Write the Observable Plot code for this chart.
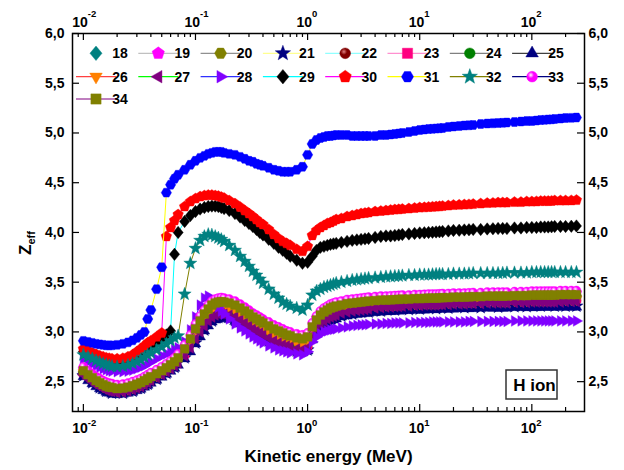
<!DOCTYPE html>
<html><head><meta charset="utf-8">
<script src="https://cdn.jsdelivr.net/npm/d3@7"></script>
<script src="https://cdn.jsdelivr.net/npm/@observablehq/plot@0.6"></script>
<style>
html,body{margin:0;padding:0;background:#fff;}
#chart{width:624px;height:470px;}
</style></head><body><div id="chart"></div>
<script>
// ---------- DATA ----------
const energy = [
0.01,0.011,0.012,0.013,0.014,0.015,0.016,0.017,0.018,0.02,0.0225,0.025,0.0275,0.03,0.0325,0.035,0.0375,0.04,0.045,0.05,0.055,0.06,0.065,0.07,0.08,0.09,
0.1,0.11,0.12,0.13,0.14,0.15,0.16,0.17,0.18,0.2,0.225,0.25,0.275,0.3,0.325,0.35,0.375,0.4,0.45,0.5,0.55,0.6,0.65,0.7,0.8,0.9,
1,1.1,1.2,1.3,1.4,1.5,1.6,1.7,1.8,2,2.25,2.5,2.75,3,3.25,3.5,4,4.5,5,5.5,6,6.5,7,8,9,
10,11,12,13,14,15,16,18,20,22.5,25,27.5,30,35,40,45,50,55,60,70,80,90,100,110,120,130,140,150,160,180,200,225,250];
const energyCoarse = [
0.01,0.012,0.014,0.016,0.018,0.0225,0.0275,0.0325,0.0375,0.045,0.055,0.065,0.08,
0.1,0.12,0.14,0.16,0.18,0.225,0.275,0.325,0.375,0.45,0.55,0.65,0.8,
1,1.2,1.4,1.6,2,2.5,3.5,4.5,6,8,
10,14,18,25,35,50,70,90,120,160,200,250];

// series 18-24 (on energyCoarse)
const z18 = [2.59,2.52,2.47,2.435,2.42,2.415,2.44,2.47,2.51,2.56,2.62,2.68,2.80,
3.00,3.15,3.24,3.27,3.27,3.24,3.18,3.12,3.08,3.03,2.98,2.945,2.915,
2.93,3.10,3.18,3.22,3.25,3.27,3.29,3.30,3.305,3.31,
3.315,3.32,3.325,3.33,3.335,3.34,3.345,3.345,3.35,3.35,3.355,3.355];
const z19 = [2.63,2.56,2.51,2.475,2.46,2.455,2.48,2.51,2.55,2.60,2.66,2.72,2.85,
3.05,3.20,3.29,3.32,3.32,3.29,3.23,3.17,3.13,3.08,3.03,2.99,2.96,
2.97,3.14,3.22,3.26,3.29,3.31,3.33,3.34,3.345,3.35,
3.355,3.36,3.365,3.37,3.375,3.38,3.385,3.385,3.39,3.39,3.395,3.395];
const z20 = [2.60,2.53,2.48,2.445,2.43,2.425,2.45,2.48,2.52,2.57,2.63,2.69,2.82,
3.02,3.17,3.26,3.29,3.29,3.26,3.20,3.14,3.10,3.05,3.00,2.96,2.93,
2.94,3.11,3.19,3.23,3.26,3.28,3.30,3.31,3.315,3.32,
3.325,3.33,3.335,3.34,3.345,3.35,3.355,3.355,3.36,3.36,3.365,3.365];
const z21 = [2.56,2.49,2.44,2.405,2.385,2.385,2.405,2.435,2.475,2.525,2.585,2.645,2.74,
2.89,3.02,3.11,3.145,3.145,3.115,3.06,3.005,2.96,2.91,2.865,2.835,2.81,
2.82,3.00,3.08,3.12,3.16,3.18,3.20,3.21,3.22,3.225,
3.23,3.235,3.24,3.245,3.245,3.25,3.255,3.255,3.26,3.26,3.26,3.26];
const z22 = [2.58,2.51,2.46,2.425,2.41,2.405,2.43,2.46,2.50,2.55,2.61,2.67,2.77,
2.94,3.07,3.16,3.19,3.19,3.16,3.10,3.04,3.00,2.95,2.90,2.87,2.84,
2.85,3.04,3.12,3.16,3.20,3.22,3.24,3.255,3.265,3.27,
3.275,3.28,3.285,3.29,3.295,3.30,3.305,3.305,3.31,3.31,3.315,3.315];
const z23 = [2.59,2.52,2.47,2.435,2.42,2.415,2.44,2.47,2.51,2.56,2.62,2.68,2.78,
2.96,3.09,3.18,3.21,3.21,3.18,3.12,3.06,3.02,2.97,2.92,2.89,2.86,
2.87,3.06,3.14,3.18,3.22,3.24,3.26,3.275,3.285,3.29,
3.295,3.30,3.305,3.31,3.315,3.32,3.325,3.325,3.33,3.33,3.335,3.335];
const z24 = [2.60,2.53,2.48,2.445,2.43,2.425,2.45,2.48,2.52,2.57,2.63,2.69,2.80,
2.98,3.11,3.20,3.23,3.23,3.20,3.14,3.08,3.04,2.99,2.94,2.91,2.88,
2.89,3.08,3.16,3.20,3.24,3.26,3.28,3.295,3.305,3.31,
3.315,3.32,3.325,3.33,3.335,3.34,3.345,3.345,3.35,3.35,3.355,3.355];

// series 25-34 (on energy)
const z25 = [2.55,2.51,2.48,2.45,2.43,2.41,2.395,2.385,2.375,2.37,2.375,2.385,2.395,2.41,2.425,2.445,2.465,2.485,2.515,2.545,2.575,2.605,2.635,2.665,2.73,2.80,
2.88,2.95,3.01,3.06,3.10,3.12,3.135,3.14,3.135,3.125,3.105,3.08,3.05,3.02,2.995,2.97,2.95,2.93,2.90,2.875,2.855,2.84,2.825,2.815,2.80,2.79,
2.81,2.92,2.99,3.04,3.07,3.09,3.11,3.12,3.13,3.15,3.16,3.17,3.175,3.18,3.185,3.19,3.195,3.20,3.205,3.205,3.21,3.21,3.215,3.215,3.22,
3.22,3.22,3.225,3.225,3.225,3.23,3.23,3.23,3.23,3.235,3.235,3.235,3.235,3.24,3.24,3.24,3.24,3.24,3.24,3.245,3.245,3.245,3.245,3.245,3.25,3.25,3.25,3.25,3.25,3.25,3.25,3.25,3.25];
const z26 = [2.59,2.55,2.52,2.49,2.47,2.45,2.435,2.425,2.42,2.41,2.415,2.425,2.44,2.455,2.47,2.49,2.51,2.53,2.56,2.59,2.62,2.65,2.68,2.71,2.79,2.88,
2.97,3.05,3.12,3.17,3.21,3.23,3.245,3.25,3.245,3.235,3.215,3.185,3.155,3.125,3.095,3.07,3.05,3.03,3.00,2.97,2.95,2.93,2.915,2.905,2.885,2.875,
2.90,3.00,3.07,3.12,3.15,3.17,3.19,3.20,3.21,3.22,3.235,3.24,3.245,3.25,3.255,3.26,3.265,3.27,3.27,3.275,3.275,3.28,3.28,3.28,3.285,
3.285,3.29,3.29,3.29,3.29,3.295,3.295,3.295,3.30,3.30,3.30,3.305,3.305,3.305,3.31,3.31,3.31,3.31,3.31,3.315,3.315,3.315,3.32,3.32,3.32,3.32,3.32,3.32,3.32,3.325,3.325,3.325,3.325];
const z27 = [2.57,2.53,2.50,2.47,2.45,2.43,2.415,2.405,2.40,2.39,2.395,2.405,2.42,2.435,2.45,2.47,2.49,2.51,2.54,2.57,2.60,2.63,2.66,2.69,2.76,2.84,
2.93,3.00,3.06,3.11,3.15,3.17,3.18,3.185,3.18,3.17,3.15,3.12,3.09,3.06,3.03,3.01,2.99,2.97,2.94,2.91,2.89,2.87,2.86,2.85,2.83,2.82,
2.84,2.96,3.03,3.08,3.11,3.13,3.15,3.16,3.17,3.19,3.20,3.21,3.215,3.22,3.225,3.23,3.24,3.245,3.25,3.25,3.255,3.255,3.26,3.26,3.265,
3.265,3.27,3.27,3.27,3.27,3.275,3.275,3.275,3.28,3.28,3.28,3.285,3.285,3.285,3.29,3.29,3.29,3.29,3.29,3.295,3.295,3.295,3.30,3.30,3.30,3.30,3.30,3.30,3.30,3.30,3.305,3.305,3.305];
const z28 = [2.73,2.70,2.68,2.66,2.645,2.63,2.62,2.61,2.605,2.60,2.60,2.605,2.615,2.63,2.645,2.66,2.68,2.70,2.73,2.76,2.78,2.80,2.82,2.84,2.90,3.02,
3.15,3.27,3.34,3.36,3.33,3.29,3.25,3.21,3.18,3.13,3.08,3.04,3.01,2.98,2.95,2.93,2.91,2.89,2.86,2.84,2.82,2.81,2.80,2.79,2.78,2.77,
2.80,2.90,2.95,2.98,3.00,3.01,3.02,3.025,3.03,3.04,3.05,3.06,3.065,3.07,3.072,3.075,3.08,3.08,3.085,3.085,3.09,3.09,3.09,3.09,3.095,
3.095,3.095,3.095,3.10,3.10,3.10,3.10,3.10,3.10,3.10,3.10,3.105,3.105,3.105,3.105,3.105,3.105,3.105,3.105,3.11,3.11,3.11,3.11,3.11,3.11,3.11,3.11,3.11,3.11,3.11,3.11,3.11,3.11];
const z29 = [2.80,2.78,2.76,2.745,2.73,2.72,2.71,2.705,2.70,2.70,2.705,2.715,2.73,2.755,2.78,2.81,2.83,2.855,2.89,2.93,2.97,3.01,3.78,4.00,4.11,4.17,
4.21,4.235,4.25,4.26,4.265,4.265,4.26,4.25,4.24,4.22,4.19,4.155,4.12,4.09,4.06,4.03,4.00,3.975,3.93,3.89,3.85,3.82,3.79,3.76,3.72,3.69,
3.70,3.76,3.82,3.85,3.86,3.87,3.88,3.885,3.89,3.90,3.91,3.92,3.925,3.93,3.935,3.94,3.95,3.96,3.965,3.965,3.97,3.975,3.98,3.985,3.99,
3.995,3.997,4.00,4.002,4.005,4.007,4.01,4.015,4.02,4.022,4.025,4.027,4.03,4.03,4.035,4.037,4.04,4.04,4.04,4.045,4.045,4.05,4.05,4.05,4.055,4.055,4.055,4.057,4.06,4.06,4.06,4.062,4.065];
const z30 = [2.83,2.81,2.79,2.775,2.76,2.75,2.74,2.735,2.73,2.73,2.735,2.75,2.77,2.80,2.83,2.86,2.89,2.91,2.95,2.99,3.96,4.05,4.12,4.18,4.26,4.31,
4.34,4.36,4.37,4.375,4.375,4.37,4.365,4.355,4.345,4.32,4.29,4.255,4.22,4.19,4.16,4.13,4.10,4.08,4.03,3.98,3.94,3.91,3.89,3.87,3.83,3.81,
3.86,3.97,4.02,4.05,4.07,4.09,4.10,4.115,4.13,4.14,4.16,4.17,4.18,4.19,4.195,4.20,4.21,4.215,4.22,4.225,4.23,4.232,4.235,4.24,4.245,
4.25,4.252,4.255,4.257,4.26,4.262,4.265,4.27,4.275,4.277,4.28,4.282,4.285,4.29,4.295,4.297,4.30,4.30,4.30,4.305,4.305,4.31,4.31,4.312,4.315,4.315,4.315,4.317,4.32,4.32,4.32,4.322,4.325];
const z31 = [2.91,2.90,2.89,2.88,2.875,2.87,2.865,2.865,2.865,2.87,2.88,2.895,2.915,2.94,2.97,3.00,3.13,3.22,3.43,3.65,4.40,4.48,4.54,4.58,4.63,4.68,
4.72,4.75,4.77,4.79,4.80,4.81,4.81,4.81,4.80,4.79,4.78,4.76,4.74,4.72,4.71,4.69,4.68,4.67,4.65,4.63,4.62,4.61,4.61,4.61,4.63,4.66,
4.78,4.89,4.93,4.95,4.96,4.97,4.97,4.975,4.98,4.98,4.98,4.97,4.97,4.97,4.97,4.97,4.97,4.98,4.98,4.985,4.99,4.995,5.00,5.01,5.02,
5.03,5.035,5.04,5.042,5.045,5.047,5.05,5.06,5.065,5.07,5.075,5.077,5.08,5.09,5.095,5.097,5.10,5.102,5.105,5.11,5.115,5.12,5.12,5.125,5.13,5.132,5.135,5.137,5.14,5.145,5.15,5.152,5.155];
const z32 = [2.77,2.75,2.73,2.71,2.695,2.68,2.67,2.66,2.655,2.65,2.655,2.665,2.68,2.70,2.72,2.745,2.77,2.79,2.82,2.85,2.88,2.91,2.94,2.96,3.38,3.69,
3.84,3.92,3.96,3.98,3.975,3.96,3.945,3.93,3.91,3.87,3.82,3.76,3.71,3.66,3.61,3.57,3.53,3.49,3.43,3.38,3.34,3.30,3.28,3.26,3.24,3.22,
3.27,3.37,3.41,3.43,3.45,3.46,3.47,3.48,3.49,3.50,3.51,3.52,3.525,3.53,3.535,3.54,3.545,3.55,3.555,3.557,3.56,3.562,3.565,3.57,3.57,
3.575,3.575,3.575,3.577,3.58,3.58,3.58,3.58,3.585,3.585,3.585,3.587,3.59,3.59,3.59,3.59,3.59,3.592,3.595,3.595,3.595,3.595,3.60,3.60,3.60,3.60,3.60,3.60,3.60,3.60,3.60,3.60,3.60];
const z33 = [2.65,2.61,2.58,2.55,2.53,2.51,2.495,2.485,2.48,2.47,2.475,2.485,2.50,2.515,2.53,2.55,2.57,2.59,2.62,2.65,2.68,2.71,2.74,2.78,2.87,2.97,
3.08,3.16,3.22,3.27,3.31,3.33,3.34,3.345,3.34,3.33,3.31,3.28,3.25,3.22,3.19,3.17,3.15,3.13,3.10,3.07,3.05,3.03,3.01,3.00,2.98,2.97,
2.99,3.09,3.16,3.21,3.24,3.26,3.28,3.29,3.30,3.31,3.325,3.33,3.335,3.34,3.345,3.35,3.355,3.36,3.36,3.362,3.365,3.367,3.37,3.37,3.375,
3.375,3.377,3.38,3.38,3.38,3.382,3.385,3.385,3.39,3.39,3.39,3.392,3.395,3.395,3.40,3.40,3.40,3.40,3.40,3.405,3.405,3.405,3.41,3.41,3.41,3.41,3.41,3.41,3.41,3.415,3.415,3.415,3.415];
const z34 = [2.61,2.57,2.54,2.51,2.49,2.47,2.455,2.445,2.44,2.43,2.435,2.445,2.46,2.475,2.49,2.51,2.53,2.55,2.58,2.61,2.64,2.67,2.70,2.74,2.83,2.93,
3.03,3.11,3.18,3.23,3.27,3.29,3.30,3.305,3.30,3.29,3.27,3.24,3.21,3.18,3.15,3.13,3.11,3.09,3.06,3.03,3.01,2.99,2.97,2.96,2.94,2.93,
2.95,3.05,3.12,3.17,3.20,3.22,3.24,3.25,3.26,3.27,3.285,3.29,3.295,3.30,3.305,3.31,3.315,3.32,3.32,3.322,3.325,3.327,3.33,3.33,3.335,
3.335,3.337,3.34,3.34,3.34,3.342,3.345,3.345,3.35,3.35,3.35,3.352,3.355,3.355,3.36,3.36,3.36,3.36,3.36,3.365,3.365,3.365,3.37,3.37,3.37,3.37,3.37,3.37,3.37,3.375,3.375,3.375,3.375];

const seriesNames = ["18","19","20","21","22","23","24","25","26","27","28","29","30","31","32","33","34"];
const seriesValues = [z18,z19,z20,z21,z22,z23,z24,z25,z26,z27,z28,z29,z30,z31,z32,z33,z34];
const seriesGrid = [energyCoarse,energyCoarse,energyCoarse,energyCoarse,energyCoarse,energyCoarse,energyCoarse,
  energy,energy,energy,energy,energy,energy,energy,energy,energy,energy];
const markerColors = ["#008080","#ff00ff","#808000","#000080","#800000","#ff0080","#008000","#000080","#ff8000","#800080","#8000ff","#000000","#ff0000","#0000ff","#008080","#ff00ff","#808000"];
const lineColors = ["none","#c0c0c0","#909090","#ffff90","#90ffff","#ff90d0","#808080","#404040","#ff4040","#00ff00","#3030ff","#00ffff","#ff00ff","#ffff00","#808000","#000080","#800080"];
const markerShapes = ["diamond","pentagon","hexagon","star","sphere","square","circle","triUp","triDown","triLeft","triRight","diamond","pentagon","hexagon","star","sphere","square"];

const xMajor = [0.01,0.1,1,10,100];
const xExp = ["-2","-1","0","1","2"];
const xMinor = [0.009,0.02,0.03,0.04,0.05,0.06,0.07,0.08,0.09,0.2,0.3,0.4,0.5,0.6,0.7,0.8,0.9,2,3,4,5,6,7,8,9,20,30,40,50,60,70,80,90,200];
const yMajor = [2.5,3.0,3.5,4.0,4.5,5.0,5.5,6.0];

// ---------- SYMBOLS ----------
function poly(pts){ return {draw(ctx,size){ const R=Math.sqrt(size/Math.PI); pts.forEach(([a,b],i)=> i? ctx.lineTo(a*R,b*R): ctx.moveTo(a*R,b*R)); ctx.closePath(); }}; }
function regular(n,k,rot){ const p=[]; for(let i=0;i<n;i++){const a=rot+2*Math.PI*i/n; p.push([k*Math.cos(a),k*Math.sin(a)]);} return poly(p); }
function starSym(){ const p=[]; for(let i=0;i<10;i++){const a=-Math.PI/2+Math.PI*i/5; const k=i%2?0.62:1.5; p.push([k*Math.cos(a),k*Math.sin(a)]);} return poly(p); }
const SYM = {
  diamond: poly([[0,-1.35],[1.12,0],[0,1.35],[-1.12,0]]),
  pentagon: regular(5,1.2,-Math.PI/2),
  hexagon: regular(6,1.12,0),
  star: starSym(),
  sphere: d3.symbolCircle,
  circle: d3.symbolCircle,
  square: poly([[-0.95,-0.95],[0.95,-0.95],[0.95,0.95],[-0.95,0.95]]),
  triUp: regular(3,1.35,-Math.PI/2),
  triDown: regular(3,1.35,Math.PI/2),
  triLeft: regular(3,1.35,Math.PI),
  triRight: regular(3,1.35,0)
};
function fillFor(k){ return markerShapes[k]==="sphere" ? `url(#sph${seriesNames[k]})` : markerColors[k]; }

// ---------- PLOT ----------
const W=624,H=470, mL=72,mR=40,mT=33,mB=59;
const innerW=W-mL-mR, innerH=H-mT-mB;
const marks = [];
seriesNames.forEach((name,k)=>{
  const grid = seriesGrid[k], vals = seriesValues[k];
  const pts = grid.map((e,i)=>({x:e,y:vals[i]})).filter(d=>d.y!=null);
  if (lineColors[k]!=="none") marks.push(Plot.line(pts,{x:"x",y:"y",stroke:lineColors[k],strokeWidth:1}));
  marks.push(Plot.dot(pts,{x:"x",y:"y",r:4.6,symbol:SYM[markerShapes[k]],fill:fillFor(k),stroke:markerColors[k],strokeWidth:0.4}));
});
const tickStyle = {stroke:"black",strokeWidth:1.2};
marks.push(
  Plot.ruleX(xMajor,{x:d=>d,insetTop:innerH-7,...tickStyle}),
  Plot.ruleX(xMajor,{x:d=>d,insetBottom:innerH-7,...tickStyle}),
  Plot.ruleX(xMinor,{x:d=>d,insetTop:innerH-4,...tickStyle}),
  Plot.ruleX(xMinor,{x:d=>d,insetBottom:innerH-4,...tickStyle}),
  Plot.ruleY(yMajor,{y:d=>d,insetRight:innerW-7,...tickStyle}),
  Plot.ruleY(yMajor,{y:d=>d,insetLeft:innerW-7,...tickStyle}),
  Plot.frame({stroke:"black",strokeWidth:1.5})
);
const txt = {fontWeight:"bold",fill:"black",fontFamily:"Liberation Sans, Arial, sans-serif"};
marks.push(
  Plot.text(yMajor,{y:d=>d,text:d=>d.toFixed(1).replace(".",","),frameAnchor:"left",dx:-8,textAnchor:"end",fontSize:14,...txt}),
  Plot.text(yMajor,{y:d=>d,text:d=>d.toFixed(1).replace(".",","),frameAnchor:"right",dx:4,textAnchor:"start",fontSize:14,...txt}),
  Plot.text(xMajor,{x:d=>d,text:()=> "10",frameAnchor:"bottom",dy:21.5,dx:4.5,textAnchor:"end",fontSize:14,...txt}),
  Plot.text(xMajor,{x:d=>d,text:(d,i)=>xExp[i],frameAnchor:"bottom",dy:14.5,dx:4.5,textAnchor:"start",fontSize:9.5,...txt}),
  Plot.text(xMajor,{x:d=>d,text:()=> "10",frameAnchor:"top",dy:-16.5,dx:4.5,textAnchor:"end",fontSize:14,...txt}),
  Plot.text(xMajor,{x:d=>d,text:(d,i)=>xExp[i],frameAnchor:"top",dy:-23.5,dx:4.5,textAnchor:"start",fontSize:9.5,...txt}),
  Plot.text([0],{text:()=> "Kinetic energy (MeV)",frameAnchor:"bottom",dy:50,fontSize:17,...txt})
);

const svg = Plot.plot({
  width:W,height:H,marginLeft:mL,marginRight:mR,marginTop:mT,marginBottom:mB,
  x:{type:"log",domain:[0.008,295],axis:null},
  y:{domain:[2.2,6.0],axis:null},
  style:{fontFamily:"Liberation Sans, Arial, sans-serif",background:"white",overflow:"visible"},
  marks
});

// gradients for sphere markers
const s = d3.select(svg);
const defs = s.insert("defs",":first-child");
[["22","#800000","#e08080"],["33","#ff00ff","#ffffff"]].forEach(([id,c,hi])=>{
  const g = defs.append("radialGradient").attr("id","sph"+id).attr("cx","38%").attr("cy","35%").attr("r","65%");
  g.append("stop").attr("offset","0%").attr("stop-color",hi);
  g.append("stop").attr("offset","45%").attr("stop-color",c);
  g.append("stop").attr("offset","100%").attr("stop-color",c);
});

// Y axis title Z_eff
const yt = s.append("text").attr("transform","translate(31,243) rotate(-90)")
  .attr("text-anchor","middle").attr("font-family","Liberation Sans, Arial, sans-serif")
  .attr("font-weight","bold").attr("font-size",17).attr("fill","black");
yt.append("tspan").text("Z");
yt.append("tspan").attr("font-size",11).attr("dy",4).text("eff");

// legend
const lg = s.append("g");
seriesNames.forEach((name,k)=>{
  const row = k<8?0:(k<16?1:2), col = k<8?k:(k<16?k-8:0);
  const cx = 96+col*62.3, cy=[53.3,76.7,99][row];
  if (lineColors[k]!=="none") lg.append("line").attr("x1",cx-20).attr("x2",cx+20).attr("y1",cy).attr("y2",cy).attr("stroke",lineColors[k]).attr("stroke-width",1.2);
  lg.append("path").attr("transform",`translate(${cx},${cy})`).attr("d",d3.symbol(SYM[markerShapes[k]],Math.PI*5.4*5.4)())
    .attr("fill",fillFor(k)).attr("stroke",markerColors[k]).attr("stroke-width",0.4);
  lg.append("text").attr("x",cx+24).attr("y",cy+5).attr("font-family","Liberation Sans, Arial, sans-serif")
    .attr("font-weight","bold").attr("font-size",14).attr("fill","black").text(name);
});

// H ion box
s.append("rect").attr("x",506).attr("y",370).attr("width",51).attr("height",29).attr("fill","white").attr("stroke","#333").attr("stroke-width",1.5);
s.append("text").attr("x",534.5).attr("y",390.5).attr("text-anchor","middle").attr("font-family","Liberation Sans, Arial, sans-serif")
  .attr("font-weight","bold").attr("font-size",17).attr("fill","black").text("H ion");

document.getElementById("chart").appendChild(svg);
</script></body></html>
